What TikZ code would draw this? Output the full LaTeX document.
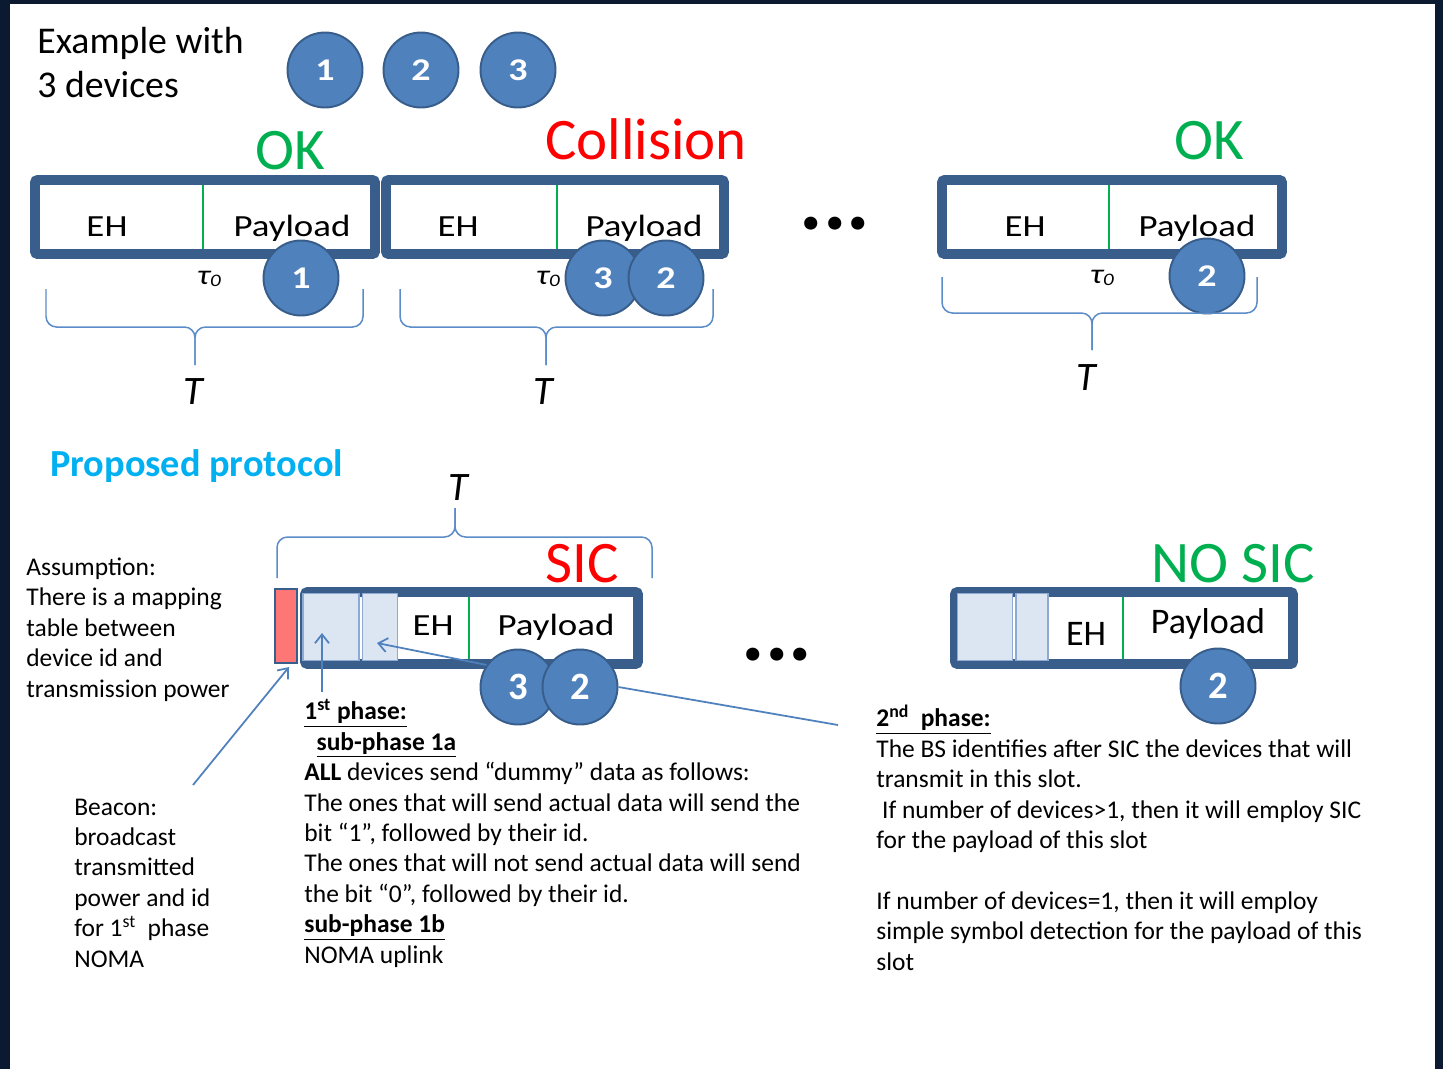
\documentclass[tikz,border=0pt]{standalone}
\usepackage{fontspec}
\setmainfont{Carlito}
\newfontfamily\widefont{Carlito}[FakeStretch=1.2]
\usetikzlibrary{arrows.meta}

\definecolor{slidenavy}{HTML}{0B1A31}
\definecolor{frameblue}{HTML}{3A5E8C}
\definecolor{devblue}{HTML}{4F81BD}
\definecolor{devedge}{HTML}{385D8A}
\definecolor{okgreen}{HTML}{00B050}
\definecolor{protocyan}{HTML}{00B0F0}
\definecolor{cellblue}{HTML}{DCE6F2}
\definecolor{celledge}{HTML}{8EAAD2}
\definecolor{beaconred}{HTML}{FF7676}
\definecolor{braceblue}{HTML}{5B8CC8}

\newcommand{\fs}[2]{\fontsize{#1}{#2}\selectfont}

\tikzset{
  slotframe/.style={draw=frameblue,line width=5.6pt,fill=white,rounded corners=1.5pt},
  divider/.style={draw=okgreen,line width=1.4pt},
  device/.style={circle,fill=devblue,draw=devedge,line width=1.1pt,minimum size=1.5cm,inner sep=0pt,text=white,font=\widefont\bfseries\fs{18}{20}},
  bigdevice/.style={device,font=\bfseries\fs{22}{24}},
  field/.style={anchor=base,font=\widefont\fs{17.5}{20}},
  verdict/.style={anchor=base,font=\fs{33.5}{38}},
  cell/.style={fill=cellblue,draw=celledge,line width=0.8pt,inner sep=0pt,minimum height=1.34cm},
  curly/.style={draw=braceblue,line width=0.85pt,rounded corners=6pt},
  tlen/.style={font=\itshape\fs{23}{26}},
  tau/.style={anchor=base,font=\widefont\itshape\fs{16}{18}},
  pointer/.style={draw=devblue,line width=1pt,-{Straight Barb[length=5pt,width=8pt]}},
  note/.style={anchor=base west,align=left,inner sep=0pt,font=\fs{14.5}{17.3}},
  ellipsis/.style={anchor=base,font=\bfseries\fs{50}{50}}
}

\begin{document}
\begin{tikzpicture}[x=0.02cm,y=-0.02cm]
\useasboundingbox (0,0) rectangle (1443,1069);
\fill[slidenavy] (0,0) rectangle (1443,1069);
\fill[white] (10,4) rectangle (1435,1069);

% multi-line texts sit on the baseline of their last line
\node[anchor=base west,align=left,inner sep=0pt,font=\fs{21.5}{25}] (ex) at (37,97) {Example with\\3 devices};
\node[device] (dv1) at (325,70) {1};
\node[device] (dv2) at (421,70) {2};
\node[device] (dv3) at (518,70) {3};

% slotted access, one slot of length T each
\node[verdict,text=okgreen] (ok1) at (290,169) {OK};
\node[verdict,text=red] (coll) at (646,159) {Collision};
\node[verdict,text=okgreen] (ok2) at (1209,159) {OK};
\draw[slotframe] (35,180) rectangle (375,254);
\draw[slotframe] (386,180) rectangle (724,254);
\draw[slotframe] (942,180) rectangle (1282,254);
\draw[divider] (203,185) -- (203,249);
\draw[divider] (557,185) -- (557,249);
\draw[divider] (1109,185) -- (1109,249);
\node[field] (eh1) at (107,236) {EH};
\node[field] (pl1) at (292,236) {Payload};
\node[field] (eh2) at (458,236) {EH};
\node[field] (pl2) at (644,236) {Payload};
\node[field] (eh3) at (1025,236) {EH};
\node[field] (pl3) at (1197,236) {Payload};
\node[ellipsis] (dots1) at (835,229) {...};
\node[tau] (tau1) at (209,284) {τ\raisebox{-1.5pt}{\fs{10}{10}0}};
\node[tau] (tau2) at (548,284) {τ\raisebox{-1.5pt}{\fs{10}{10}0}};
\node[tau] (tau3) at (1102,283) {τ\raisebox{-1.5pt}{\fs{10}{10}0}};
\node[device] (s1d1) at (301,278) {1};
\node[device] (s2d3) at (603,278) {3};
\node[device] (s2d2) at (666,278) {2};
\node[device] (s3d2) at (1207,276) {2};
\draw[curly] (46,289) -- (46,327) -- (195,327) -- (195,365);
\draw[curly] (363,289) -- (363,327) -- (195,327) -- (195,365);
\draw[curly] (400,289) -- (400,327) -- (546,327) -- (546,365);
\draw[curly] (713,289) -- (713,327) -- (546,327) -- (546,365);
\draw[curly] (942,277) -- (942,313) -- (1092,313) -- (1092,350);
\draw[curly] (1257,277) -- (1257,313) -- (1092,313) -- (1092,350);
\node[tlen] (T1) at (193,392) {T};
\node[tlen] (T2) at (543,392) {T};
\node[tlen] (T3) at (1086,378) {T};

% proposed protocol
\node[anchor=base west,inner sep=0pt,font=\bfseries\fs{21.8}{24},text=protocyan] (prop) at (50,476) {Proposed protocol};
\node[tlen] (T4) at (458,488) {T};
\draw[curly] (277,578) -- (277,537) -- (455,537) -- (455,508);
\draw[curly] (652,578) -- (652,537) -- (455,537) -- (455,508);
\node[verdict,text=red] (sic) at (582,582) {SIC};
\node[verdict,text=okgreen] (nosic) at (1233,582) {NO SIC};

\draw[slotframe] (305,592) rectangle (638,664);
\node[draw=frameblue,line width=1.2pt,fill=beaconred,inner sep=0pt,minimum width=0.44cm,minimum height=1.48cm] (bcn) at (286,626) {};
\node[cell,minimum width=1.12cm] (c1a) at (331,627) {};
\node[cell,minimum width=0.7cm] (c1b) at (380,627) {};
\draw[divider] (469,597) -- (469,659);
\node[field] (eh4) at (433,635) {EH};
\node[field] (pl4) at (556,635) {Payload};

\draw[slotframe] (955,592) rectangle (1293,664);
\node[cell,minimum width=1.1cm] (c2a) at (985,627) {};
\node[cell,minimum width=0.64cm] (c2b) at (1032,627) {};
\draw[divider] (1123,597) -- (1123,659);
\node[anchor=base,font=\fs{20.5}{24}] (eh5) at (1086,645) {EH};
\node[anchor=base,font=\fs{20.5}{24}] (pl5) at (1208,633) {Payload};
\node[ellipsis] (dots2) at (777,660) {...};

\node[bigdevice] (b3) at (518,687) {3};
\node[bigdevice] (b2) at (580,687) {2};
\node[bigdevice] (n2) at (1218,686) {2};

\coordinate (a1s) at (322,692);
\coordinate (a1e) at (322,633);
\coordinate (a2e) at (377,643);
\coordinate (a3s) at (193,785);
\coordinate (a3e) at (289,667);
\coordinate (l1e) at (838,725);
\draw[pointer] (a1s) -- (a1e);
\draw[pointer] (b3.145) -- (a2e);
\draw[pointer] (a3s) -- (a3e);
\draw[draw=devblue,line width=1pt] (b2.east) -- (l1e);

\node[note] (asm) at (26,697) {Assumption:\\There is a mapping\\table between\\device id and\\transmission power};
\node[note] (bcntxt) at (74,967) {Beacon:\\broadcast\\transmitted\\power and id\\for 1\textsuperscript{st}\ \ phase\\NOMA};
\node[note] (ph1) at (304,963) {\underline{\textbf{1\textsuperscript{st} phase:}}\\
  \hspace*{7pt}\underline{\textbf{sub-phase 1a}}\\
  \textbf{ALL} devices send “dummy” data as follows:\\
  The ones that will send actual data will send the\\
  bit “1”, followed by their id.\\
  The ones that will not send actual data will send\\
  the bit “0”, followed by their id.\\
  \underline{\textbf{sub-phase 1b}}\\
  NOMA uplink};
\node[note] (ph2) at (876,970) {\underline{\textbf{2\textsuperscript{nd}\ \ phase:}}\\
  The BS identifies after SIC the devices that will\\
  transmit in this slot.\\
  \ If number of devices>1, then it will employ SIC\\
  for the payload of this slot\\[17.3pt]
  If number of devices=1, then it will employ\\
  simple symbol detection for the payload of this\\
  slot};
\end{tikzpicture}
\end{document}
